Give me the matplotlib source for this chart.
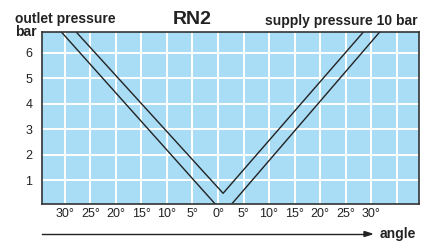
import numpy as np
import matplotlib.pyplot as plt

plt.rcParams['font.family'] = ['Liberation Sans', 'DejaVu Sans']

# angle in degrees (negative = left half), outlet pressure in bar
outer_angle = [-30.7, 1.1, 31.7]
outer_bar = [6.81, -0.30, 6.81]
inner_angle = [-27.8, 1.0, 28.5]
inner_bar = [6.81, 0.49, 6.81]

x_ticks = [-30, -25, -20, -15, -10, -5, 0, 5, 10, 15, 20, 25, 30, 35]
x_labels = ['30°', '25°', '20°', '15°', '10°', '5°', '0°',
            '5°', '10°', '15°', '20°', '25°', '30°', '']
y_ticks = [1, 2, 3, 4, 5, 6]

fig = plt.figure(figsize=(4.34, 2.41), dpi=100)
ax = fig.add_axes([42 / 434, 37 / 241, 377 / 434, 172 / 241])
ax.set_facecolor('#a9ddf5')

ax.plot(outer_angle, outer_bar, color='#222222', lw=1.0)
ax.plot(inner_angle, inner_bar, color='#222222', lw=1.0)

ax.set_xlim(-34.5, 39.4)
ax.set_ylim(0.07, 6.81)
ax.set_xticks(x_ticks)
ax.set_xticklabels(x_labels, fontsize=9, color='#222222')
ax.set_yticks(y_ticks)
ax.set_yticklabels([str(v) for v in y_ticks], fontsize=9, color='#222222')
ax.tick_params(length=0)
ax.tick_params(axis='x', pad=3)
ax.tick_params(axis='y', pad=7)
ax.grid(True, color='white', lw=1.4)
ax.set_axisbelow(True)
for s in ax.spines.values():
    s.set_color('#333333')
    s.set_linewidth(1.2)

fig.text(15 / 434, 1 - 23.5 / 241, 'outlet pressure', fontsize=10,
         fontweight='bold', va='baseline', ha='left', color='#222222')
fig.text(15 / 434, 1 - 36.5 / 241, 'bar', fontsize=10,
         fontweight='bold', va='baseline', ha='left', color='#222222')
fig.text(192 / 434, 1 - 23.5 / 241, 'RN2', fontsize=14,
         fontweight='bold', va='baseline', ha='center', color='#222222')
fig.text(418 / 434, 1 - 25 / 241, 'supply pressure 10 bar', fontsize=10,
         fontweight='bold', va='baseline', ha='right', color='#222222')

# angle arrow under the chart
fig.add_artist(plt.Line2D([42 / 434, 366 / 434], [1 - 234 / 241] * 2,
                          color='#222222', lw=1.0))
fig.patches.append(plt.Polygon([[364 / 434, 1 - 231.5 / 241],
                                [372 / 434, 1 - 234 / 241],
                                [364 / 434, 1 - 236.5 / 241]],
                               closed=True, color='#222222',
                               transform=fig.transFigure, figure=fig))
fig.text(380 / 434, 1 - 238 / 241, 'angle', fontsize=10,
         fontweight='bold', va='baseline', ha='left', color='#222222')

fig.savefig('out.png', dpi=100)
